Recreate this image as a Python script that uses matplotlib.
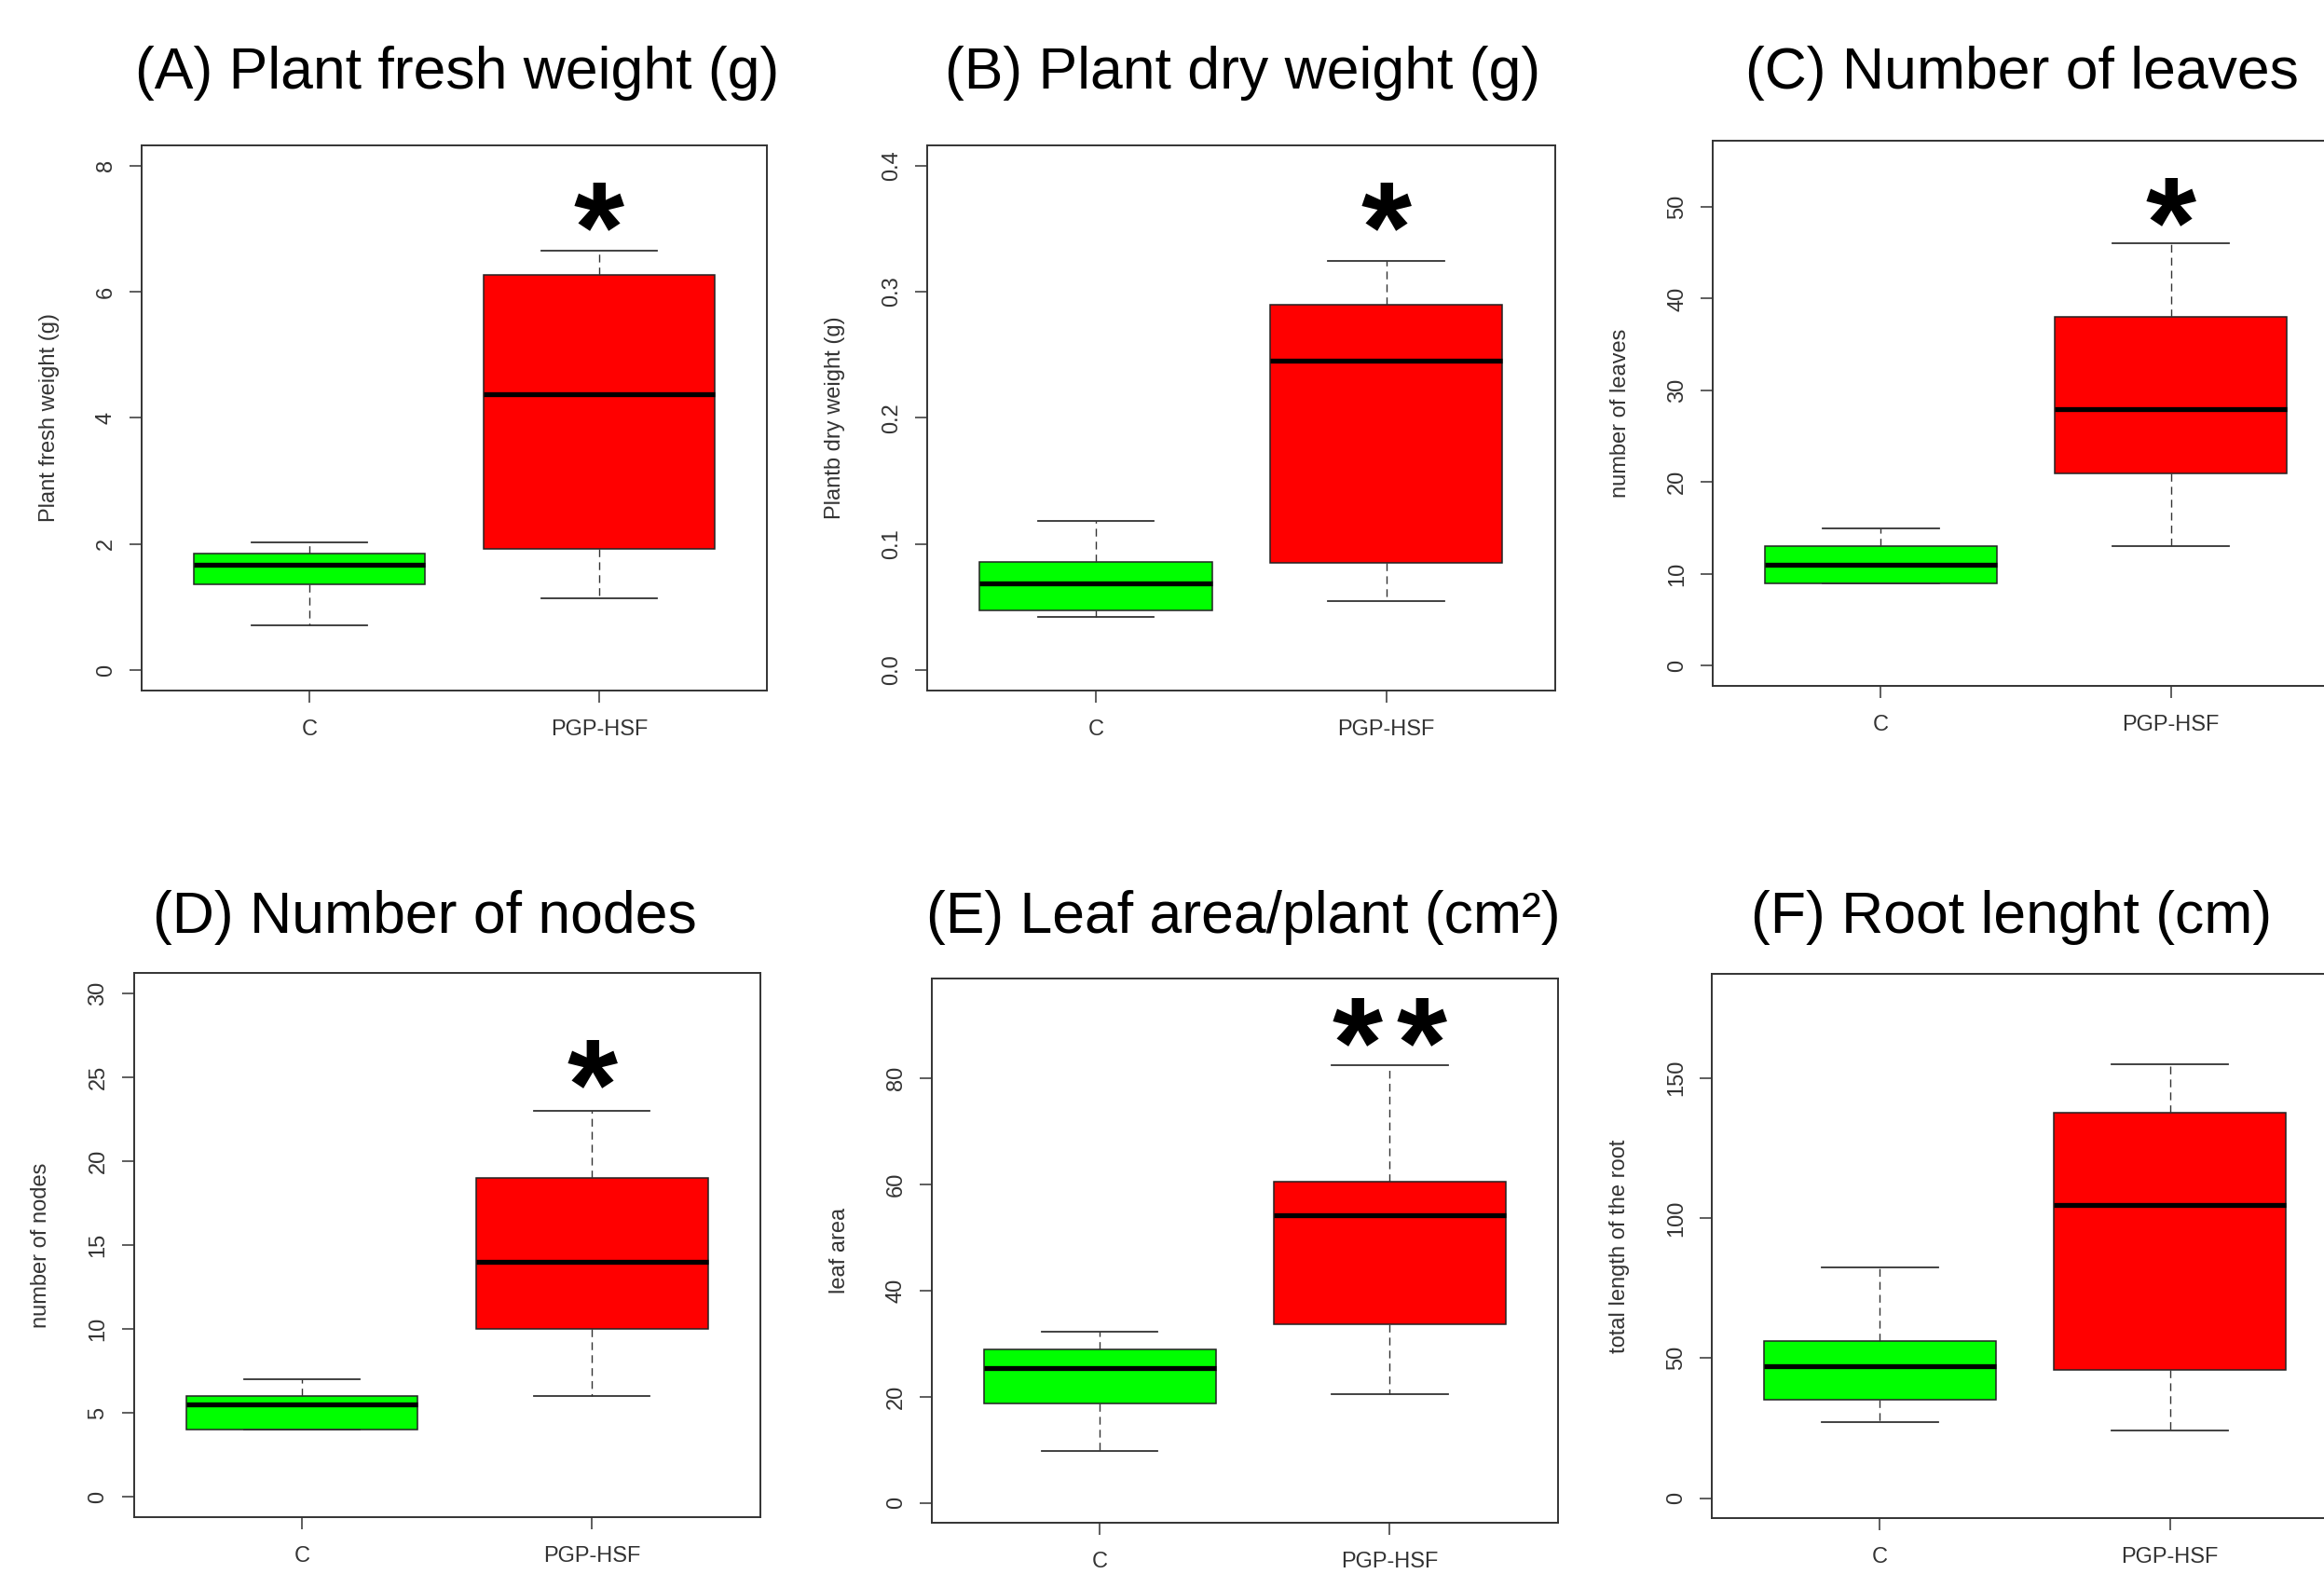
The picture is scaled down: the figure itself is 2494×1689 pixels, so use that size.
import matplotlib
matplotlib.use("Agg")
import matplotlib.pyplot as plt

plt.rcParams['font.family'] = ['Liberation Sans', 'DejaVu Sans']

W, H = 2494, 1689

groups = ['C', 'PGP-HSF']
box_colors = ['#00ff00', '#ff0000']

# (lower whisker, Q1, median, Q3, upper whisker)
fresh_c = [0.71, 1.36, 1.67, 1.85, 2.03]
fresh_p = [1.14, 1.92, 4.38, 6.27, 6.65]
dry_c = [0.042, 0.047, 0.069, 0.086, 0.118]
dry_p = [0.055, 0.085, 0.245, 0.290, 0.324]
leaves_c = [9, 9, 11, 13, 15]
leaves_p = [13, 21, 28, 38, 46]
nodes_c = [4, 4, 5.5, 6, 7]
nodes_p = [6, 10, 14, 19, 23]
area_c = [9.8, 18.8, 25.4, 28.9, 32.3]
area_p = [20.4, 33.7, 54.2, 60.5, 82.4]
root_c = [27, 35, 47.2, 56.2, 82.2]
root_p = [24.2, 45.8, 104.5, 137.5, 155]

titles = ['(A) Plant fresh weight (g)', '(B) Plant dry weight (g)', '(C) Number of leaves',
          '(D) Number of nodes', '(E) Leaf area/plant (cm\u00b2)', '(F) Root lenght (cm)']
ylabels = ['Plant fresh weight (g)', 'Plantb dry weight (g)', 'number of leaves',
           'number of nodes', 'leaf area', 'total length of the root']
ylims = [(0, 8), (0, 0.4), (0, 55), (0, 30), (0, 95), (0, 180)]
yticks = [[0, 2, 4, 6, 8], [0.0, 0.1, 0.2, 0.3, 0.4], [0, 10, 20, 30, 40, 50],
          [0, 5, 10, 15, 20, 25, 30], [0, 20, 40, 60, 80], [0, 50, 100, 150]]
ytick_labels = [['0', '2', '4', '6', '8'], ['0.0', '0.1', '0.2', '0.3', '0.4'],
                ['0', '10', '20', '30', '40', '50'], ['0', '5', '10', '15', '20', '25', '30'],
                ['0', '20', '40', '60', '80'], ['0', '50', '100', '150']]
stars = ['*', '*', '*', '*', '**', '']
star_y = [7.33, 0.366, 50.35, 25.7, 90.4, 0]

summaries = [(fresh_c, fresh_p), (dry_c, dry_p), (leaves_c, leaves_p),
             (nodes_c, nodes_p), (area_c, area_p), (root_c, root_p)]

# axes boxes in pixels: left, top, right, bottom
boxes_px = [(151.6, 156, 823.3, 741), (995, 156, 1668.6, 740.6), (1838, 151, 2510, 736),
            (143.5, 1044.3, 815.7, 1628), (999.6, 1050, 1671.8, 1634.3), (1836.8, 1044.7, 2509, 1629.2)]
title_px = [(491, 78), (1334, 78), (2170, 78), (456, 985), (1334, 985), (2159, 985)]

fig = plt.figure(figsize=(W / 100, H / 100), dpi=100)

for i in range(6):
    l, t, r, b = boxes_px[i]
    ax = fig.add_axes([l / W, 1 - b / H, (r - l) / W, (b - t) / H])

    stats = []
    for name, vals in zip(groups, summaries[i]):
        lo, q1, med, q3, hi = vals
        stats.append(dict(label=name, whislo=lo, q1=q1, med=med, q3=q3, whishi=hi, fliers=[]))

    bp = ax.bxp(stats, positions=[1, 2], widths=0.8, capwidths=0.4, patch_artist=True,
                showfliers=False,
                boxprops=dict(edgecolor='#222222', linewidth=1.1),
                medianprops=dict(color='black', linewidth=3.8, solid_capstyle='butt'),
                whiskerprops=dict(color='#333333', linewidth=1.0, linestyle=(0, (6, 4))),
                capprops=dict(color='#333333', linewidth=1.3))
    for patch, col in zip(bp['boxes'], box_colors):
        patch.set_facecolor(col)

    lo, hi = ylims[i]
    ext = 0.04 * (hi - lo)
    ax.set_ylim(lo - ext, hi + ext)
    ax.set_xlim(0.42, 2.58)
    ax.set_yticks(yticks[i])
    ax.set_yticklabels(ytick_labels[i])

    for sp in ax.spines.values():
        sp.set_color('#333333')
        sp.set_linewidth(1.4)
    ax.tick_params(axis='both', length=9.4, width=1.1, color='#333333',
                   labelcolor='#333333', labelsize=17)
    ax.tick_params(axis='x', pad=13)
    ax.tick_params(axis='y', pad=10, labelrotation=90)
    for lab in ax.get_yticklabels():
        lab.set_va('center')

    ax.set_ylabel(ylabels[i], fontsize=17, color='#333333')
    ax.yaxis.set_label_coords(-88 / (r - l), 0.5)

    # significance marks above the PGP-HSF box
    n = len(stars[i])
    for k in range(n):
        ax.annotate('*', xy=(2, star_y[i]), xytext=((k - (n - 1) / 2) * 50, -23),
                    textcoords='offset points', ha='center', va='center',
                    fontsize=100, fontweight='bold', color='black')

    tx, ty = title_px[i]
    fig.text(tx / W, 1 - ty / H, titles[i], ha='center', va='center', fontsize=45, color='black')

fig.savefig('out.png', dpi=100, facecolor='white')
